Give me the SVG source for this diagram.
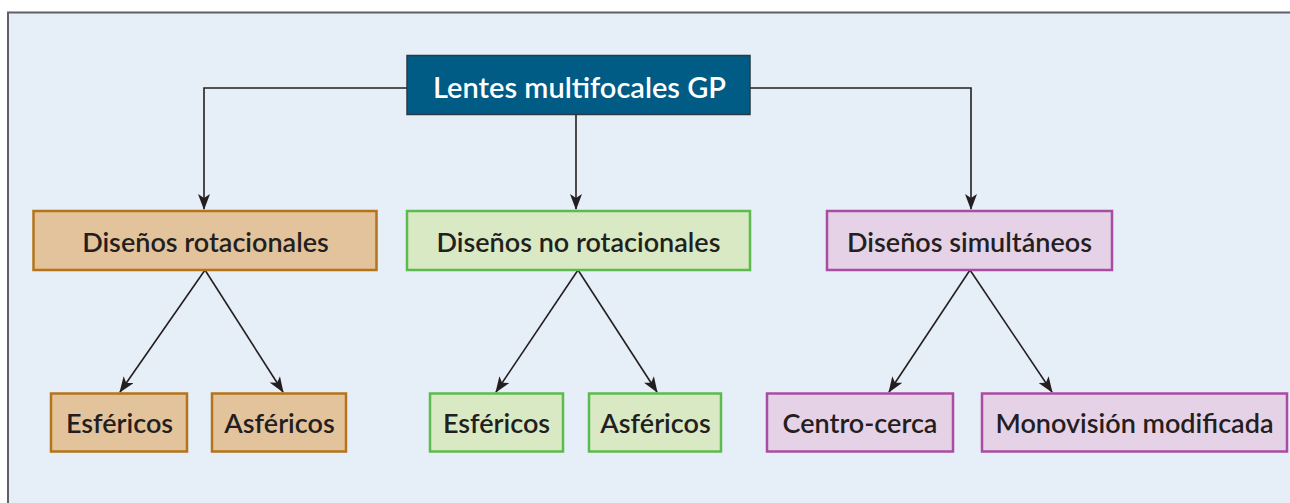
<svg xmlns="http://www.w3.org/2000/svg" width="1290" height="503" viewBox="0 0 1290 503">
<style>
text{font-family:Lato,"Open Sans","Liberation Sans",sans-serif;font-weight:600;font-size:27px;text-anchor:middle;dominant-baseline:central;fill:#231f20}
.root rect{fill:#005b85;stroke:#2b3a44;stroke-width:1.5}
.root text{fill:#ffffff;font-size:29px}
.or rect{fill:#e3c39b;stroke:#b5731a;stroke-width:2.5}
.gr rect{fill:#d9e9c4;stroke:#5bbb4d;stroke-width:2.5}
.pu rect{fill:#e6d2e6;stroke:#a94ca3;stroke-width:2.5}
.conn path{fill:none;stroke:#231f20;stroke-width:1.6}
</style>
<defs>
<marker id="ah" viewBox="0 0 16 12" refX="15" refY="6" markerWidth="16" markerHeight="12" markerUnits="userSpaceOnUse" orient="auto">
<path d="M0,0 L16,6 L0,12 L4,6 Z" fill="#231f20"/>
</marker>
</defs>
<rect x="8" y="12.5" width="1292" height="500" fill="#e6eef7" stroke="#5f5f64" stroke-width="2"/>
<g class="conn">
<path d="M407,88 H204 V209" marker-end="url(#ah)"/>
<path d="M576,115 V209" marker-end="url(#ah)"/>
<path d="M750,88 H971 V209" marker-end="url(#ah)"/>
<path d="M205,270 L120,392" marker-end="url(#ah)"/>
<path d="M205,270 L283,392" marker-end="url(#ah)"/>
<path d="M578,270 L496,392" marker-end="url(#ah)"/>
<path d="M578,270 L657,392" marker-end="url(#ah)"/>
<path d="M970,270 L889,392" marker-end="url(#ah)"/>
<path d="M970,270 L1052,392" marker-end="url(#ah)"/>
</g>
<g id="root" class="root"><rect x="407" y="55.5" width="343" height="59"/><text x="579.5" y="86">Lentes multifocales GP</text></g>
<g id="rot" class="or"><rect x="33.5" y="211" width="343" height="59"/><text x="205.5" y="241">Diseños rotacionales</text></g>
<g id="norot" class="gr"><rect x="407" y="211" width="343" height="59"/><text x="578.5" y="241">Diseños no rotacionales</text></g>
<g id="sim" class="pu"><rect x="827" y="211" width="285" height="59"/><text x="969.5" y="241">Diseños simultáneos</text></g>
<g id="esf1" class="or"><rect x="51" y="393.5" width="136" height="58"/><text x="119.5" y="422.5">Esféricos</text></g>
<g id="asf1" class="or"><rect x="212" y="393.5" width="134" height="58"/><text x="279.5" y="422.5">Asféricos</text></g>
<g id="esf2" class="gr"><rect x="430" y="393.5" width="133" height="58"/><text x="496.5" y="422.5">Esféricos</text></g>
<g id="asf2" class="gr"><rect x="589" y="393.5" width="132" height="58"/><text x="655.5" y="422.5">Asféricos</text></g>
<g id="cc" class="pu"><rect x="767" y="393.5" width="186" height="58"/><text x="860" y="422.5">Centro-cerca</text></g>
<g id="mono" class="pu"><rect x="982" y="393.5" width="305" height="58"/><text x="1134.5" y="422.5">Monovisión modificada</text></g>
</svg>
